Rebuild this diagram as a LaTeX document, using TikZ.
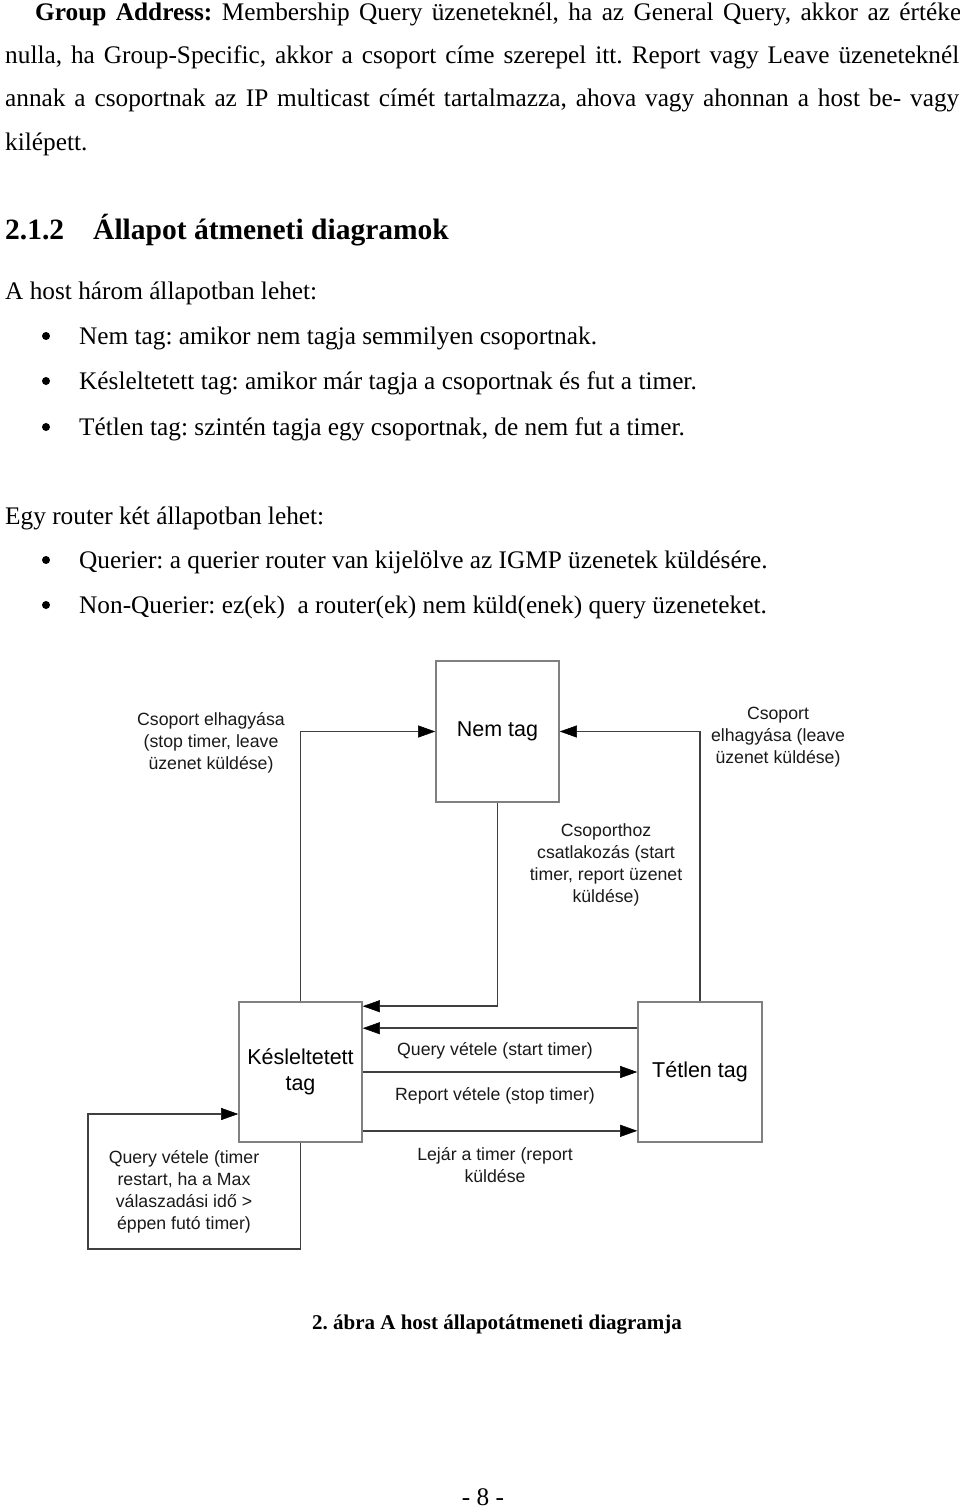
\documentclass[tikz,border=0pt]{standalone}
\usepackage{fontspec}
\setmainfont{Liberation Serif}
\newfontfamily\diafont{Liberation Sans}
\usetikzlibrary{arrows.meta}
\frenchspacing
\begin{document}
\begin{tikzpicture}[x=1pt,y=-1pt,
  body/.style={anchor=base west,inner sep=0pt,font=\fontsize{25.3}{30}\selectfont},
  bul/.style={circle,fill=black,inner sep=0pt,minimum size=8pt},
  stbox/.style={draw=black!50,line width=1.6pt,fill=white,inner sep=2pt,align=center,
     font=\diafont\fontsize{21.5}{26}\selectfont},
  lbl/.style={align=center,inner sep=0pt,font=\diafont\fontsize{17.7}{21.8}\selectfont,text=black!90},
  conn/.style={draw=black!75,line width=1.5pt,-{Triangle[length=17pt,width=12pt,color=black,fill=black,line width=0.5pt]}}]
\useasboundingbox (0,0) rectangle (960,1511);
% body text
\node[body] (l1) at (35,20.5) {\makebox[926pt][s]{\textbf{Group Address:} Membership Query üzeneteknél, ha az General Query, akkor az értéke}};
\node[body] (l2) at (5,63.5) {\makebox[954pt][s]{nulla, ha Group-Specific, akkor a csoport címe szerepel itt. Report vagy Leave üzeneteknél}};
\node[body] (l3) at (5,106.5) {\makebox[954pt][s]{annak a csoportnak az IP multicast címét tartalmazza, ahova vagy ahonnan a host be- vagy}};
\node[body] (l4) at (5,150.5) {kilépett.};
\node[body,font=\fontsize{29.5}{34}\selectfont\bfseries] (h1) at (5,240) {2.1.2};
\node[body,font=\fontsize{29.5}{34}\selectfont\bfseries] (h2) at (93,240) {Állapot átmeneti diagramok};
\node[body] (p1) at (5,299) {A host három állapotban lehet:};
\node[bul] (b1) at (46,336) {};
\node[body] (t1) at (79,344) {Nem tag: amikor nem tagja semmilyen csoportnak.};
\node[bul] (b2) at (46,381) {};
\node[body] (t2) at (79,389.5) {Késleltetett tag: amikor már tagja a csoportnak és fut a timer.};
\node[bul] (b3) at (46,427) {};
\node[body] (t3) at (79,435) {Tétlen tag: szintén tagja egy csoportnak, de nem fut a timer.};
\node[body] (p2) at (5,524.5) {Egy router két állapotban lehet:};
\node[bul] (b4) at (46,560) {};
\node[body] (t4) at (79,568.5) {Querier: a querier router van kijelölve az IGMP üzenetek küldésére.};
\node[bul] (b5) at (46,605) {};
\node[body] (t5) at (79,613.5) {Non-Querier: ez(ek)\ \ a router(ek) nem küld(enek) query üzeneteket.};
% diagram
\node[stbox,minimum width=123pt,minimum height=141pt] (nem) at (497.5,731.5) {Nem tag};
\node[stbox,minimum width=123pt,minimum height=140pt] (kes) at (300.5,1072) {Késleltetett\\tag};
\node[stbox,minimum width=124pt,minimum height=140pt] (tet) at (700,1072) {Tétlen tag};
\coordinate (lpa) at (88,1249);
\draw[conn] (kes.north) |- (nem.west);
\draw[conn] (tet.north) |- (nem.east);
\draw[conn] (nem.south) |- ([yshift=-5pt]kes.north east);
\draw[conn] ([yshift=-27pt]tet.north west) -- ([yshift=-27pt]kes.north east);
\draw[conn] (kes.east) -- (tet.west);
\draw[conn] ([yshift=12pt]kes.south east) -- ([yshift=12pt]tet.south west);
\draw[conn] (kes.south) |- (lpa) |- ([yshift=-42pt]kes.west);
\node[lbl] (la) at (211,743) {Csoport elhagyása\\(stop timer, leave\\üzenet küldése)};
\node[lbl] (lb) at (778,737) {Csoport\\elhagyása (leave\\üzenet küldése)};
\node[lbl] (lc) at (606,865) {Csoporthoz\\csatlakozás (start\\timer, report üzenet\\küldése)};
\node[lbl] (ld) at (495,1050.5) {Query vétele (start timer)};
\node[lbl] (le) at (495,1096) {Report vétele (stop timer)};
\node[lbl] (lf) at (495,1165) {Lejár a timer (report\\küldése};
\node[lbl] (lg) at (184,1192) {Query vétele (timer\\restart, ha a Max\\válaszadási idő >\\éppen futó timer)};
% caption
\node[anchor=base,inner sep=0pt,font=\fontsize{21}{25}\selectfont\bfseries] (cap) at (497,1329) {2. ábra A host állapotátmeneti diagramja};
\node[anchor=base,inner sep=0pt,font=\fontsize{25.3}{30}\selectfont] (pg) at (483,1505) {- 8 -};
\end{tikzpicture}
\end{document}
